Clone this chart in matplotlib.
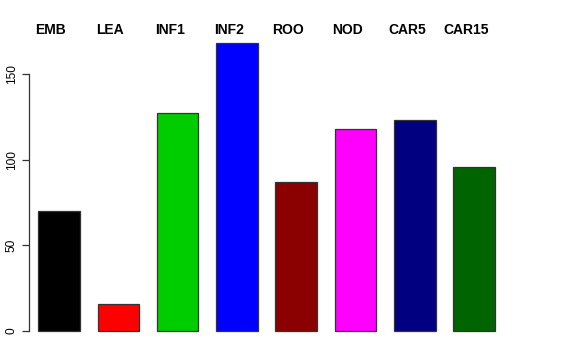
import matplotlib
matplotlib.use("Agg")
import matplotlib.pyplot as plt

categories = ["EMB", "LEA", "INF1", "INF2", "ROO", "NOD", "CAR5", "CAR15"]
values = [70, 16, 127, 168, 87, 118, 123, 96]
colors = ["#000000", "#FF0000", "#00CD00", "#0000FF", "#8B0000", "#FF00FF", "#000080", "#006400"]
yticks = [0, 50, 100, 150]

plt.rcParams['font.family'] = ['Liberation Sans', 'DejaVu Sans']

W, H = 576, 360
fig = plt.figure(figsize=(W / 100, H / 100), dpi=100)

px_per_x = 59.3
px_per_y = 1.713
zero_y = 29.0  # pixels from bottom
ymin, ymax = -6.72, 174.72
x_left_px, x_right_px = 29.0, 520.0
x0 = -(59 - 29) / px_per_x
x1 = x0 + (x_right_px - x_left_px) / px_per_x
bottom_px = zero_y + ymin * px_per_y
top_px = zero_y + ymax * px_per_y

ax = fig.add_axes([x_left_px / W, bottom_px / H, (x_right_px - x_left_px) / W, (top_px - bottom_px) / H])
ax.set_xlim(x0, x1)
ax.set_ylim(ymin, ymax)

xs = list(range(len(categories)))
ax.bar(xs, values, width=0.7, color=colors, edgecolor="#333333", linewidth=0.9)

for x, lab in zip(xs, categories):
    ax.text(x - 0.135, 176, lab, ha="center", va="center", fontsize=10,
            fontweight="bold", clip_on=False)

for s in ["top", "right", "bottom"]:
    ax.spines[s].set_visible(False)
ax.spines["left"].set_bounds(0, 150)
ax.spines["left"].set_color("#333333")
ax.spines["left"].set_linewidth(0.9)
ax.set_xticks([])
ax.set_yticks(yticks)
ax.set_yticklabels([str(t) for t in yticks], rotation=90, va="center", fontsize=8.6)
ax.tick_params(axis="y", length=5, width=0.9, color="#333333", pad=3)
ax.patch.set_visible(False)

fig.savefig("out.png", dpi=100)
